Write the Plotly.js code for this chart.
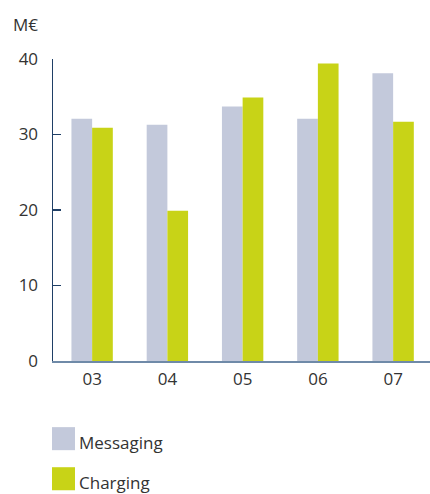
<!DOCTYPE html>
<html>
<head>
<meta charset="utf-8">
<script src="https://cdn.plot.ly/plotly-3.0.1.min.js"></script>
<style>html,body{margin:0;padding:0;background:#fff;}#chart{width:430px;height:494px;}</style>
</head>
<body>
<div id="chart"></div>
<script>
const categories = ["03", "04", "05", "06", "07"];
const seriesNames = ["Messaging", "Charging"];
const messaging = [32.1, 31.3, 33.7, 32.1, 38.1];
const charging = [30.9, 19.9, 34.9, 39.4, 31.7];
const yTicks = [0, 10, 20, 30, 40];
const unitLabel = "M€";

const colors = ["#c3c9db", "#c8d317"];
const font = {family: "'Open Sans', sans-serif", size: 17, color: "#333333"};

const traces = [messaging, charging].map((vals, i) => ({
  type: "bar",
  x: categories,
  y: vals,
  name: seriesNames[i],
  marker: {color: colors[i]},
  showlegend: false,
  hoverinfo: "skip"
}));

const shapes = [];
const annotations = [{
  text: unitLabel, xref: "paper", yref: "paper",
  x: -42/377, y: 1 + 34/301.4, xanchor: "left", yanchor: "middle",
  showarrow: false, font: font
}];
seriesNames.forEach((n, i) => {
  const top = 427 + i * 40;
  const y0 = (361 - (top + 23)) / 301.4, y1 = (361 - top) / 301.4;
  shapes.push({type: "rect", xref: "paper", yref: "paper",
    x0: (52 - 53) / 377, x1: (75 - 53) / 377, y0: y0, y1: y1,
    fillcolor: colors[i], line: {width: 0}});
  annotations.push({text: n, xref: "paper", yref: "paper",
    x: (77 - 53) / 377, y: (y0 + y1) / 2 - 0.014, xanchor: "left", yanchor: "middle",
    showarrow: false, font: font});
});

const layout = {
  width: 430, height: 494,
  margin: {l: 53, r: 0, t: 59, b: 133},
  paper_bgcolor: "#fff", plot_bgcolor: "#fff",
  font: font,
  barmode: "group", bargap: 0.45, bargroupgap: 0,
  xaxis: {
    type: "category", range: [-0.52, 4.49],
    showline: true, linecolor: "#6f8aa8", linewidth: 2,
    ticks: "", showgrid: false, zeroline: false,
    tickfont: font, ticklabelstandoff: 2
  },
  yaxis: {
    range: [0, 40], tickvals: yTicks, ticktext: yTicks.map(String),
    showline: true, linecolor: "#1f3f66", linewidth: 1.5,
    ticks: "inside", ticklen: 8, tickcolor: "#1f3f66", tickwidth: 1.5,
    showgrid: false, zeroline: false,
    tickfont: font, ticklabelstandoff: 10
  },
  shapes: shapes,
  annotations: annotations
};

Plotly.newPlot("chart", traces, layout, {displayModeBar: false, staticPlot: true});
</script>
</body>
</html>
